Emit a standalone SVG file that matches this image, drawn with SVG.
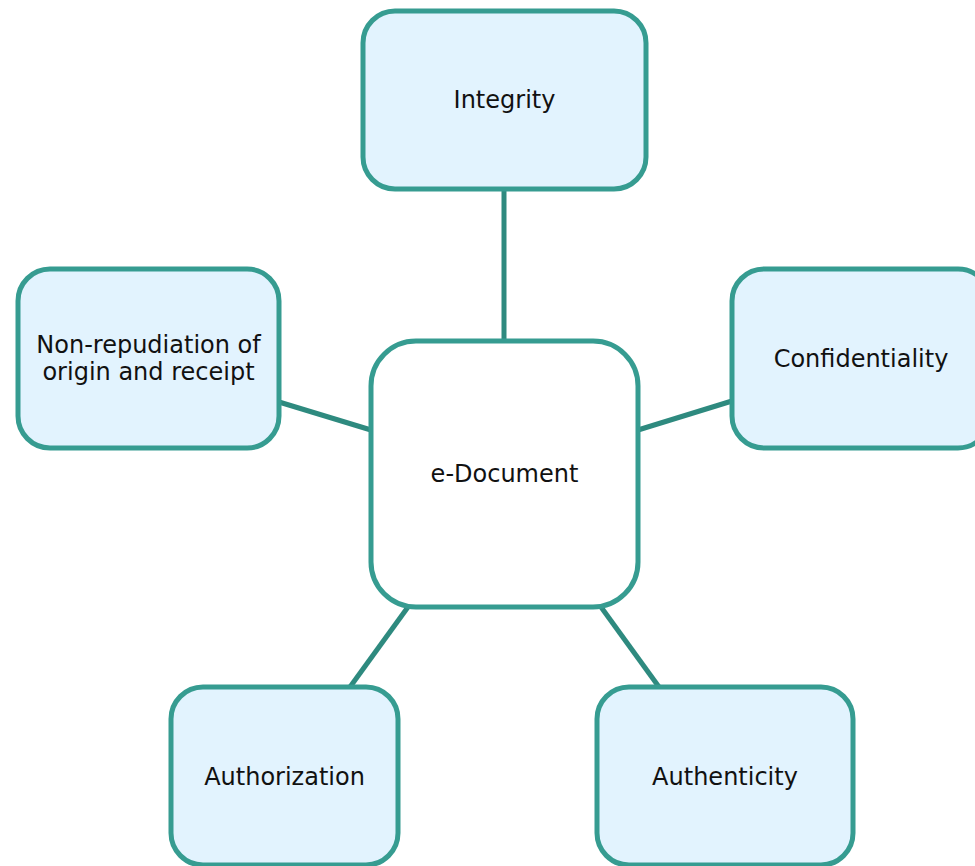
<svg xmlns="http://www.w3.org/2000/svg" width="975" height="866" viewBox="0 0 975 866">
<style>
.box{fill:#e2f3fe;stroke:#369c91;stroke-width:5}
.center{fill:#ffffff;stroke:#369c91;stroke-width:5}
.lbl{font-family:"DejaVu Sans",Verdana,sans-serif;font-size:24px;fill:#111;text-anchor:middle}
.conn{stroke:#2e8a7f;stroke-width:5;fill:none}
</style>
<g id="connectors">
<line class="conn" x1="504" y1="189" x2="504" y2="341"/>
<line class="conn" x1="279" y1="402" x2="371" y2="430"/>
<line class="conn" x1="638" y1="430" x2="732" y2="401"/>
<line class="conn" x1="408" y1="607" x2="350" y2="687"/>
<line class="conn" x1="601" y1="607" x2="659" y2="687"/>
</g>
<g id="integrity">
<rect class="box" x="363" y="11" width="283" height="178" rx="32"/>
<text class="lbl" x="504.5" y="108">Integrity</text>
</g>
<g id="nonrepudiation">
<rect class="box" x="18" y="269" width="261" height="179" rx="32"/>
<text class="lbl" x="148.5" y="353">Non-repudiation of</text>
<text class="lbl" x="148.5" y="380">origin and receipt</text>
</g>
<g id="confidentiality">
<rect class="box" x="732" y="269" width="258" height="179" rx="32"/>
<text class="lbl" x="861" y="367">Confidentiality</text>
</g>
<g id="edocument">
<rect class="center" x="371" y="341" width="267" height="266" rx="45"/>
<text class="lbl" x="504.5" y="482">e-Document</text>
</g>
<g id="authorization">
<rect class="box" x="171" y="687" width="227" height="178" rx="32"/>
<text class="lbl" x="284.5" y="785">Authorization</text>
</g>
<g id="authenticity">
<rect class="box" x="597" y="687" width="256" height="178" rx="32"/>
<text class="lbl" x="725" y="785">Authenticity</text>
</g>
</svg>
